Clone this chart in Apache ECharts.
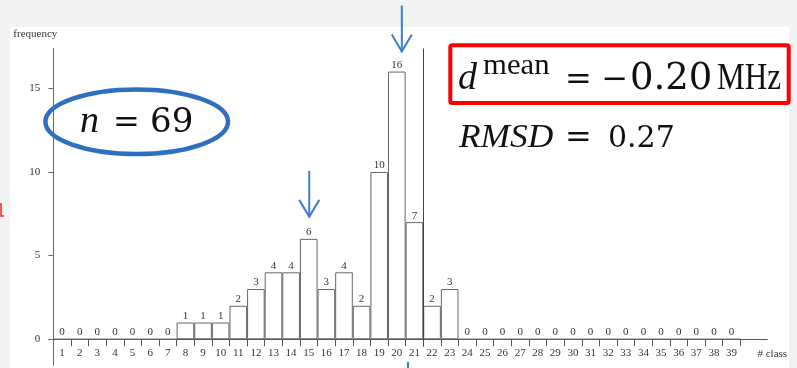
<!DOCTYPE html>
<html>
<head>
<meta charset="utf-8">
<script src="https://cdn.jsdelivr.net/npm/echarts@6/dist/echarts.min.js"></script>
<style>
  html, body { margin: 0; padding: 0; background: #f3f3f3; }
  #chart { width: 797px; height: 368px; }
</style>
</head>
<body>
<div id="chart"></div>
<script>
// Histogram of frequency offsets per class
const classes = [1,2,3,4,5,6,7,8,9,10,11,12,13,14,15,16,17,18,19,20,
                 21,22,23,24,25,26,27,28,29,30,31,32,33,34,35,36,37,38,39];
const frequency = [0,0,0,0,0,0,0,1,1,1,2,3,4,4,6,3,4,2,10,16,
                   7,2,3,0,0,0,0,0,0,0,0,0,0,0,0,0,0,0,0];
const yTickValues = [0, 5, 10, 15];
const classBoundaries = classes.map(c => c + 0.5);
const dividerAt = 21.5;          // vertical divider between class 21 and 22
const highlighted = [15, 20];    // classes marked with arrows
const sampleCount = '69';
const meanOffset = '0.20';
const rmsd = '0.27';

const xMin = 0.5, xMax = 41.03;
const yMin = -1.54, yMax = 17.38;
const gridTop = 48.5, gridBottom = 3, chartHeight = 368;
const serif = '"Liberation Serif", "DejaVu Serif", serif';

// the category axis sits on frequency 0; the value axis continues a little below it
const plotHeight = chartHeight - gridTop - gridBottom;
const zeroOffset = -plotHeight * (0 - yMin) / (yMax - yMin);

const chart = echarts.init(document.getElementById('chart'), null, { renderer: 'canvas' });

chart.setOption({
  animation: false,
  backgroundColor: '#f3f3f3',
  grid: { left: 53.3, right: 29.7, top: gridTop, bottom: gridBottom,
          containLabel: false, outerBoundsMode: 'none' },
  xAxis: {
    type: 'value',
    min: xMin, max: xMax,
    offset: zeroOffset,
    name: '# class',
    nameLocation: 'end',
    nameGap: 5,
    nameTextStyle: { fontFamily: serif, fontSize: 11, color: '#333',
                     align: 'center', verticalAlign: 'top', padding: [9, 0, 0, 0] },
    axisLine: { onZero: false, lineStyle: { color: '#555', width: 1 } },
    axisTick: { show: true, length: 7, customValues: classBoundaries,
                lineStyle: { color: '#555', width: 1 } },
    axisLabel: { customValues: classes, fontFamily: serif, fontSize: 11,
                 color: '#333', margin: 8 },
    splitLine: { show: false }
  },
  yAxis: {
    type: 'value',
    min: yMin, max: yMax,
    name: 'frequency',
    nameLocation: 'end',
    nameGap: 9,
    nameTextStyle: { fontFamily: serif, fontSize: 11, color: '#333', align: 'right',
                     padding: [0, -4, 0, 0] },
    axisLine: { show: true, lineStyle: { color: '#666', width: 1 } },
    axisTick: { show: true, length: 5, customValues: yTickValues,
                lineStyle: { color: '#666' } },
    axisLabel: { customValues: yTickValues, fontFamily: serif, fontSize: 11,
                 color: '#333', margin: 13 },
    splitLine: { show: false }
  },
  series: [{
    type: 'bar',
    data: classes.map((c, i) => [c, frequency[i]]),
    barWidth: '100%',
    itemStyle: { color: '#ffffff', borderColor: '#666', borderWidth: 1 },
    label: { show: true, position: 'top', distance: 1, fontFamily: serif,
             fontSize: 11, color: '#333' },
    markLine: {
      silent: true, symbol: 'none',
      label: { show: false },
      lineStyle: { color: '#444', width: 1, type: 'solid' },
      data: [[{ coord: [dividerAt, -0.44] }, { coord: [dividerAt, yMax] }]]
    }
  }]
});

// Annotations: arrows above highlighted classes, sample size and summary statistics
function arrow(x, tipY, color) {
  return [
    { type: 'line', shape: { x1: x, y1: tipY - 46, x2: x, y2: tipY },
      style: { stroke: color, lineWidth: 2 } },
    { type: 'polyline', shape: { points: [[x - 10, tipY - 17], [x, tipY], [x + 10, tipY - 17]] },
      style: { stroke: color, lineWidth: 2, fill: null } }
  ];
}
const arrowColor = '#3a7fd2';
const arrowOffsets = { 15: [0.5, -22], 20: [5, -20] };
const arrowEls = [];
highlighted.forEach(c => {
  const p = chart.convertToPixel({ gridIndex: 0 }, [c, frequency[c - 1]]);
  const off = arrowOffsets[c];
  arrowEls.push(...arrow(p[0] + off[0], p[1] + off[1], arrowColor));
});

// one piece of formula text, placed by its left edge (or centre) and baseline
const LIB = '"Liberation Serif", serif';
const DJV = '"DejaVu Serif", serif';
function piece(text, x, baseline, size, family, opts) {
  opts = opts || {};
  return {
    type: 'text', x: x, y: baseline - 0.30 * size,
    scaleX: opts.sx || 1,
    style: {
      text: text, fill: '#111',
      fontFamily: family, fontSize: size,
      fontStyle: opts.italic ? 'italic' : 'normal',
      align: opts.align || 'left', verticalAlign: 'middle'
    }
  };
}

chart.setOption({
  graphic: [
    // white paper area over the patterned backdrop
    { type: 'rect', z: -10, silent: true,
      shape: { x: 10, y: 27, width: 779, height: 341 },
      style: { fill: '#ffffff' } },
    ...arrowEls,
    { type: 'line', shape: { x1: 408, y1: 362, x2: 408, y2: 368 },
      style: { stroke: arrowColor, lineWidth: 2 } },
    { type: 'polyline', shape: { points: [[1, 203], [1, 216], [4, 216]] },
      style: { stroke: '#ff2020', lineWidth: 1.5, fill: null } },
    // sample size
    { type: 'ellipse', shape: { cx: 136.7, cy: 121.7, rx: 91.3, ry: 32.3 },
      style: { stroke: '#2e6fbf', lineWidth: 4.5, fill: null } },
    piece('n', 80, 133.3, 38, LIB, { italic: true }),
    piece('=', 126.5, 133.3, 32, DJV, { align: 'center' }),
    piece(sampleCount, 150, 133.3, 34, DJV),
    // mean offset box
    { type: 'rect', shape: { x: 450.3, y: 45.3, width: 338.4, height: 57.7, r: 2 },
      style: { stroke: '#ff0000', lineWidth: 4, fill: null } },
    piece('d', 458, 90, 38, LIB, { italic: true }),
    piece('mean', 483, 75, 29, LIB, { sx: 1.06 }),
    piece('=', 578.5, 90, 32, DJV, { align: 'center' }),
    piece('−', 615, 90, 32, DJV, { align: 'center' }),
    piece(meanOffset, 630, 90, 37, DJV),
    piece('MHz', 717, 90, 38, LIB, { sx: 0.82 }),
    // root mean square deviation
    piece('RMSD', 459, 148.3, 34, LIB, { italic: true, sx: 1.04 }),
    piece('=', 578.5, 148.3, 32, DJV, { align: 'center' }),
    piece(rmsd, 608, 148.3, 30, DJV)
  ]
});
</script>
</body>
</html>
